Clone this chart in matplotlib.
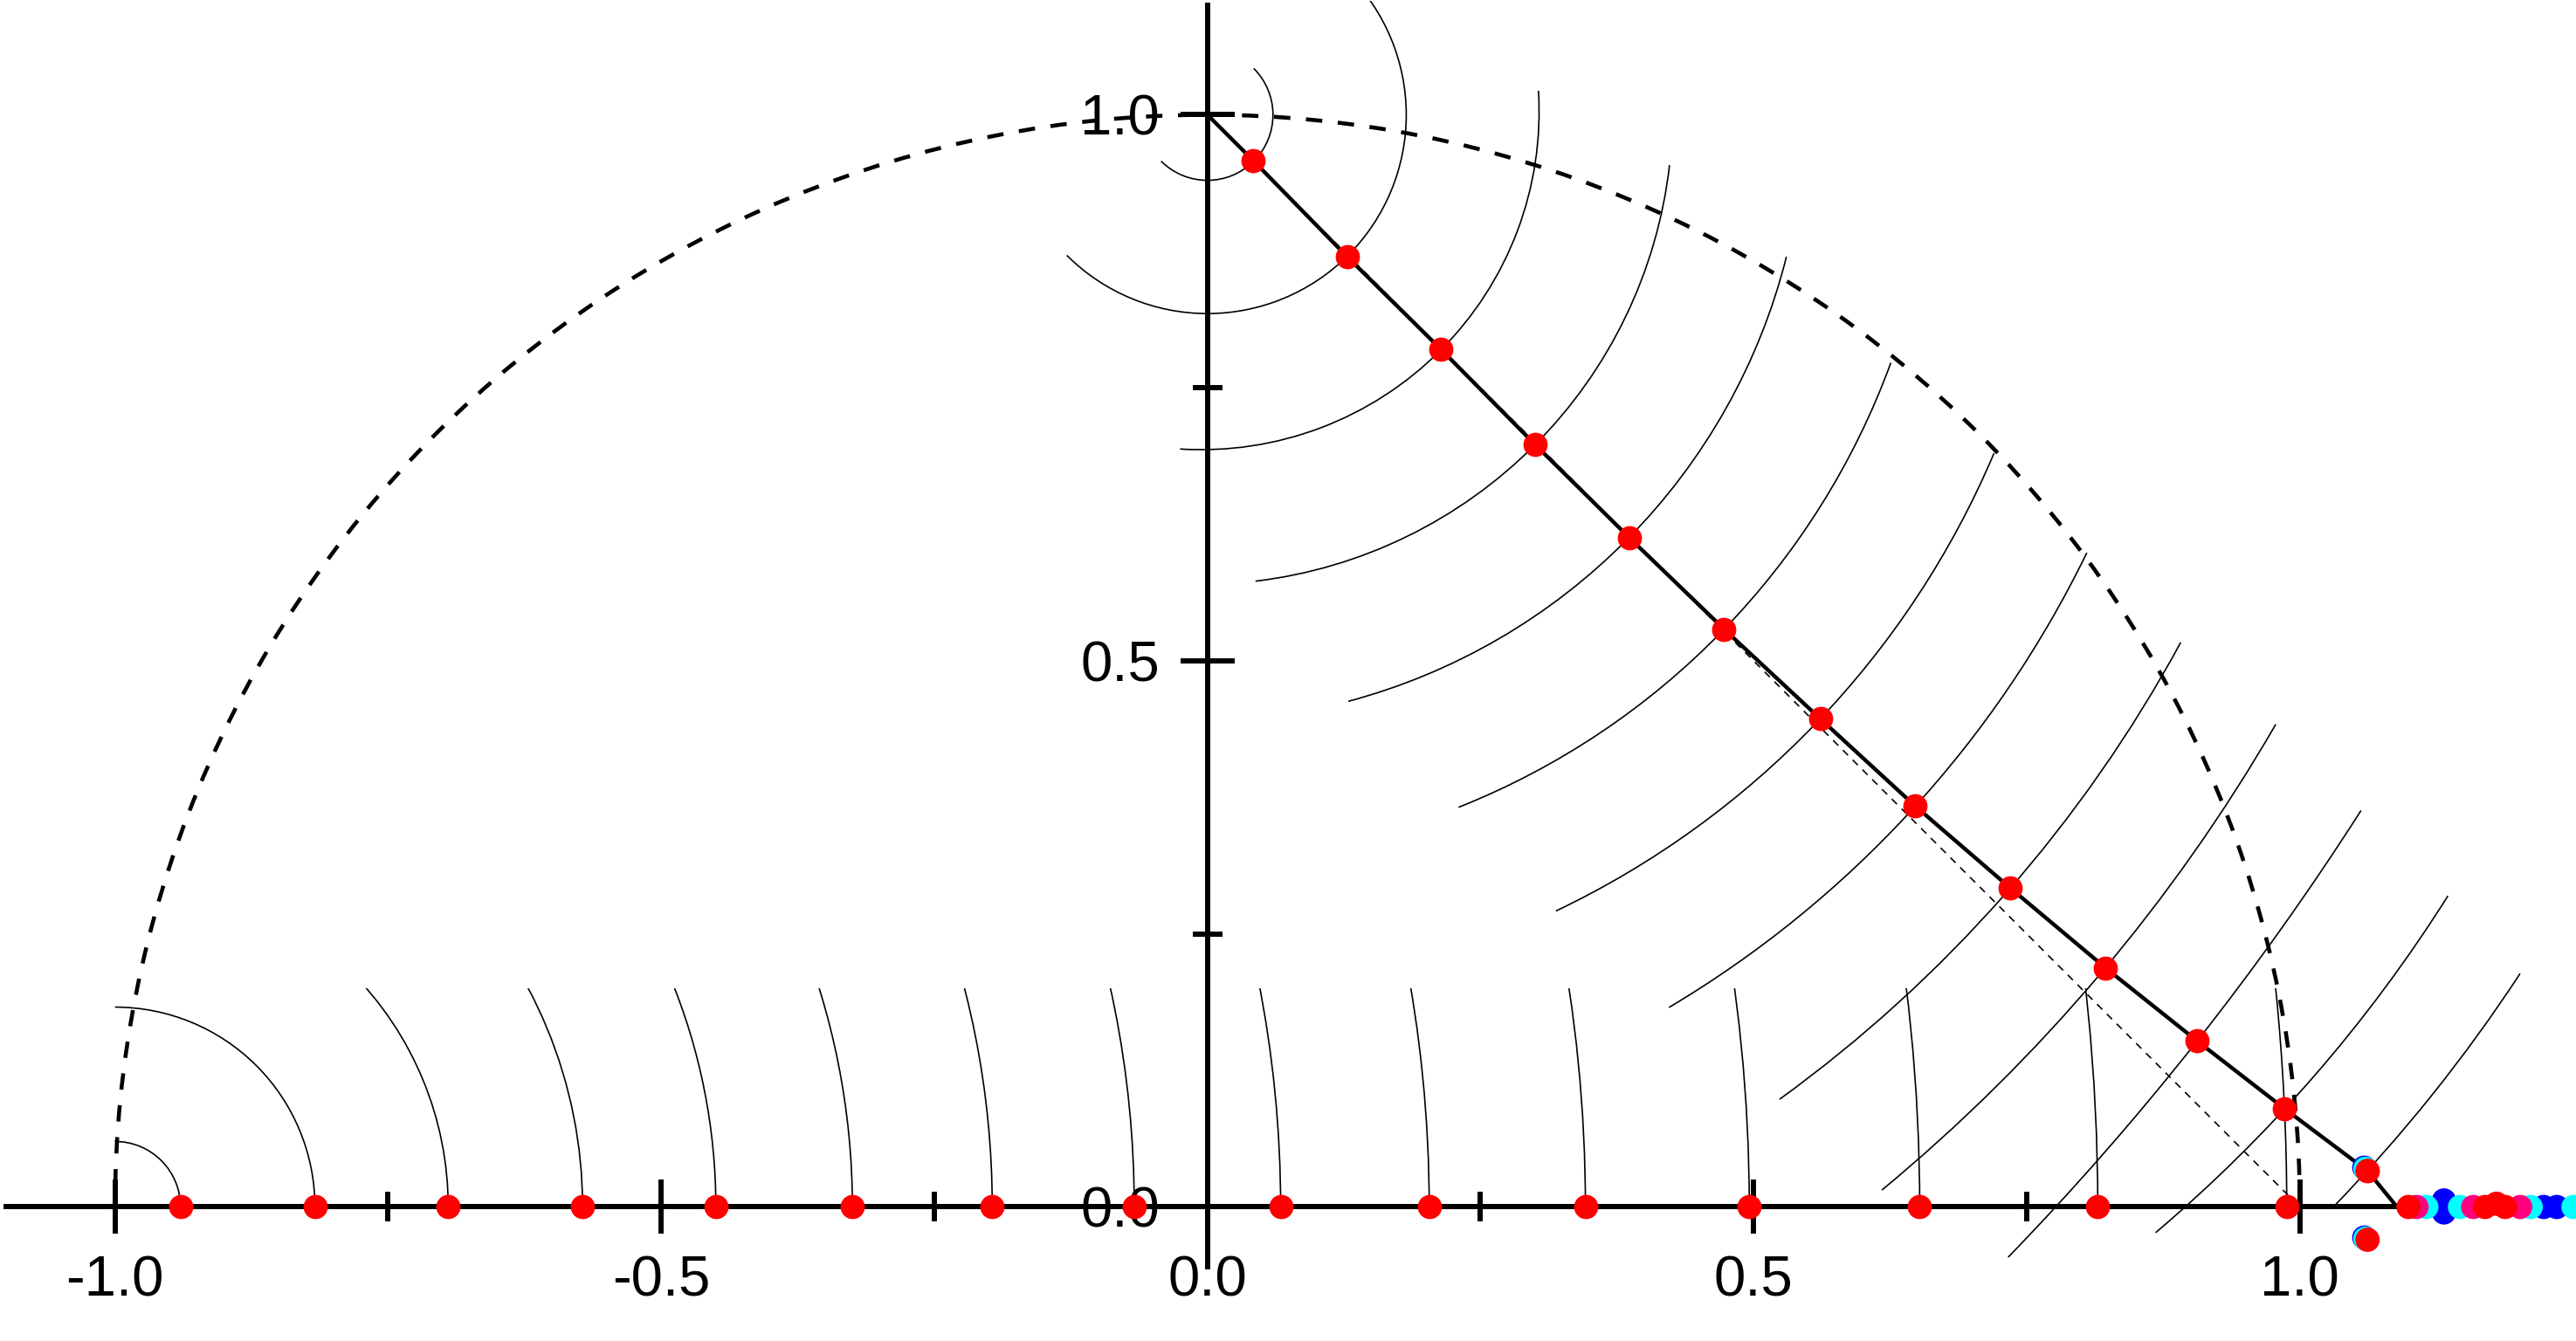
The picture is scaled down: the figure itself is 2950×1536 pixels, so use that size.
import numpy as np
import matplotlib.pyplot as plt
from matplotlib.patches import Arc, Rectangle

plt.rcParams['font.family'] = ['Liberation Sans', 'DejaVu Sans']

# red points along the bent path that starts at (0, 1)
path_x = [0.042, 0.128, 0.214, 0.300, 0.386, 0.473, 0.561, 0.648, 0.735, 0.822, 0.906, 0.986, 1.062]
path_y = [0.958, 0.870, 0.785, 0.698, 0.613, 0.529, 0.447, 0.367, 0.292, 0.219, 0.152, 0.090, 0.033]
path_start = (0.0, 1.0)
path_end = (1.089, 0.0)

# red points on the x axis
axis_x = [-0.940, -0.817, -0.695, -0.572, -0.450, -0.325, -0.197, -0.067,
          0.067, 0.203, 0.346, 0.496, 0.652, 0.815, 0.988]

# small arcs around (0, 1): radius, start angle, end angle (deg)
near_r = [0.060, 0.182]
near_t1 = [-135, -135]
near_t2 = [45, 45]

# wide arcs through path points 3..11: lower end, (path point), upper end
arc_lo_x = [-0.025, 0.044, 0.129, 0.230, 0.319, 0.4225, 0.5237, 0.6174, 0.733]
arc_lo_y = [0.694, 0.573, 0.463, 0.366, 0.271, 0.1827, 0.0986, 0.0155, -0.046]
arc_hi_x = [0.303, 0.423, 0.530, 0.6256, 0.720, 0.805, 0.891, 0.978, 1.056]
arc_hi_y = [1.022, 0.954, 0.870, 0.773, 0.690, 0.599, 0.517, 0.442, 0.363]

# last two arcs, around (0, 1)
far_r = [1.342, 1.436]
far_t1 = [-49.7, -44.2]
far_t2 = [-32.2, -33.2]

# arcs around (-1, 0), cut at this height
low_cut = 0.2

# coloured points at the right end of the x axis
end_x = [1.1319, 1.1319, 1.2232, 1.2352, 1.1158, 1.1466, 1.2113, 1.2505,
         1.1068, 1.1587, 1.2017, 1.0995, 1.1695, 1.1800, 1.1880]
end_y = [0.006, -0.005, 0, 0, 0, 0, 0, 0, 0, 0, 0, 0, 0, 0.003, 0]
end_c = ['#0000ff', '#0000ff', '#0000ff', '#0000ff', '#00ffff', '#00ffff', '#00ffff', '#00ffff',
         '#ff0080', '#ff0080', '#ff0080', '#ff0000', '#ff0000', '#ff0000', '#ff0000']

# the two points near (1.06, 0) with blue/cyan under them
pair_x = [1.059, 1.060, 1.062, 1.059, 1.060, 1.062]
pair_y = [0.036, 0.035, 0.033, -0.028, -0.029, -0.030]
pair_c = ['#0000ff', '#00ffff', '#ff0000', '#0000ff', '#00ffff', '#ff0000']


def circle_through(p1, p2, p3):
    (x1, y1), (x2, y2), (x3, y3) = p1, p2, p3
    d = 2 * (x1 * (y2 - y3) + x2 * (y3 - y1) + x3 * (y1 - y2))
    ux = ((x1**2 + y1**2) * (y2 - y3) + (x2**2 + y2**2) * (y3 - y1) + (x3**2 + y3**2) * (y1 - y2)) / d
    uy = ((x1**2 + y1**2) * (x3 - x2) + (x2**2 + y2**2) * (x1 - x3) + (x3**2 + y3**2) * (x2 - x1)) / d
    return ux, uy, np.hypot(x1 - ux, y1 - uy)


fig = plt.figure(figsize=(29.5, 15.36), dpi=100)
ax = fig.add_axes([0, 0, 1, 1])
ax.set_xlim(-1.1053, 1.2528)
ax.set_ylim(-0.1222, 1.1046)
ax.set_aspect('equal')

# dashed unit half circle and thin dashed diagonal
ax.add_patch(Arc((0, 0), 2, 2, theta1=0, theta2=180, color='black', lw=3.3,
                 linestyle=(0, (4.1, 3.9))))
ax.plot([0, 1], [1, 0], color='black', lw=1.2, linestyle=(0, (5, 4.5)))

for r, t1, t2 in zip(near_r + far_r, near_t1 + far_t1, near_t2 + far_t2):
    ax.add_patch(Arc((0, 1), 2 * r, 2 * r, theta1=t1, theta2=t2, color='black', lw=1.2))

for i in range(len(arc_lo_x)):
    lo = (arc_lo_x[i], arc_lo_y[i])
    mid = (path_x[i + 2], path_y[i + 2])
    hi = (arc_hi_x[i], arc_hi_y[i])
    cx, cy, r = circle_through(lo, mid, hi)
    t1 = np.degrees(np.arctan2(lo[1] - cy, lo[0] - cx))
    t2 = np.degrees(np.arctan2(hi[1] - cy, hi[0] - cx))
    ax.add_patch(Arc((cx, cy), 2 * r, 2 * r, theta1=t1, theta2=t2, color='black', lw=1.2))

clip = Rectangle((-1.2, 0), 2.5, low_cut, transform=ax.transData)
for xk in axis_x:
    r = xk + 1
    a = Arc((-1, 0), 2 * r, 2 * r, theta1=0, theta2=90, color='black', lw=1.2)
    ax.add_patch(a)
    a.set_clip_path(clip)

px = [path_start[0]] + path_x + [path_end[0]]
py = [path_start[1]] + path_y + [path_end[1]]
ax.plot(px, py, color='black', lw=3.2, solid_capstyle='round', zorder=3)

ax.scatter(end_x, end_y, s=20 ** 2, c=end_c, linewidths=0, zorder=5)
ax.scatter(pair_x, pair_y, s=20 ** 2, c=pair_c, linewidths=0, zorder=5)
ax.plot(path_x, path_y, 'o', color='#ff0000', ms=20, mew=0, zorder=6)
ax.plot(axis_x, [0] * len(axis_x), 'o', color='#ff0000', ms=20, mew=0, zorder=6)

for s in ['top', 'right']:
    ax.spines[s].set_visible(False)
ax.spines['left'].set_position(('data', 0))
ax.spines['bottom'].set_position(('data', 0))
ax.spines['left'].set_bounds(-0.055, 1.1)
ax.spines['bottom'].set_bounds(-1.1, 1.2528)
ax.spines['left'].set_linewidth(4.3)
ax.spines['bottom'].set_linewidth(4.3)
ax.spines['left'].set_zorder(4)
ax.spines['bottom'].set_zorder(4)

ax.set_xticks([-1.0, -0.5, 0.0, 0.5, 1.0])
ax.set_xticklabels(['-1.0', '-0.5', '0.0', '0.5', '1.0'])
ax.set_xticks([-0.75, -0.25, 0.25, 0.75], minor=True)
ax.set_yticks([0.0, 0.5, 1.0])
ax.set_yticklabels(['0.0', '0.5', '1.0'])
ax.set_yticks([0.25, 0.75], minor=True)
ax.tick_params(which='major', direction='inout', length=44.6, width=4.3, pad=17, labelsize=47)
ax.tick_params(which='minor', direction='inout', length=24.5, width=4.3)

fig.savefig('out.png', dpi=100)
